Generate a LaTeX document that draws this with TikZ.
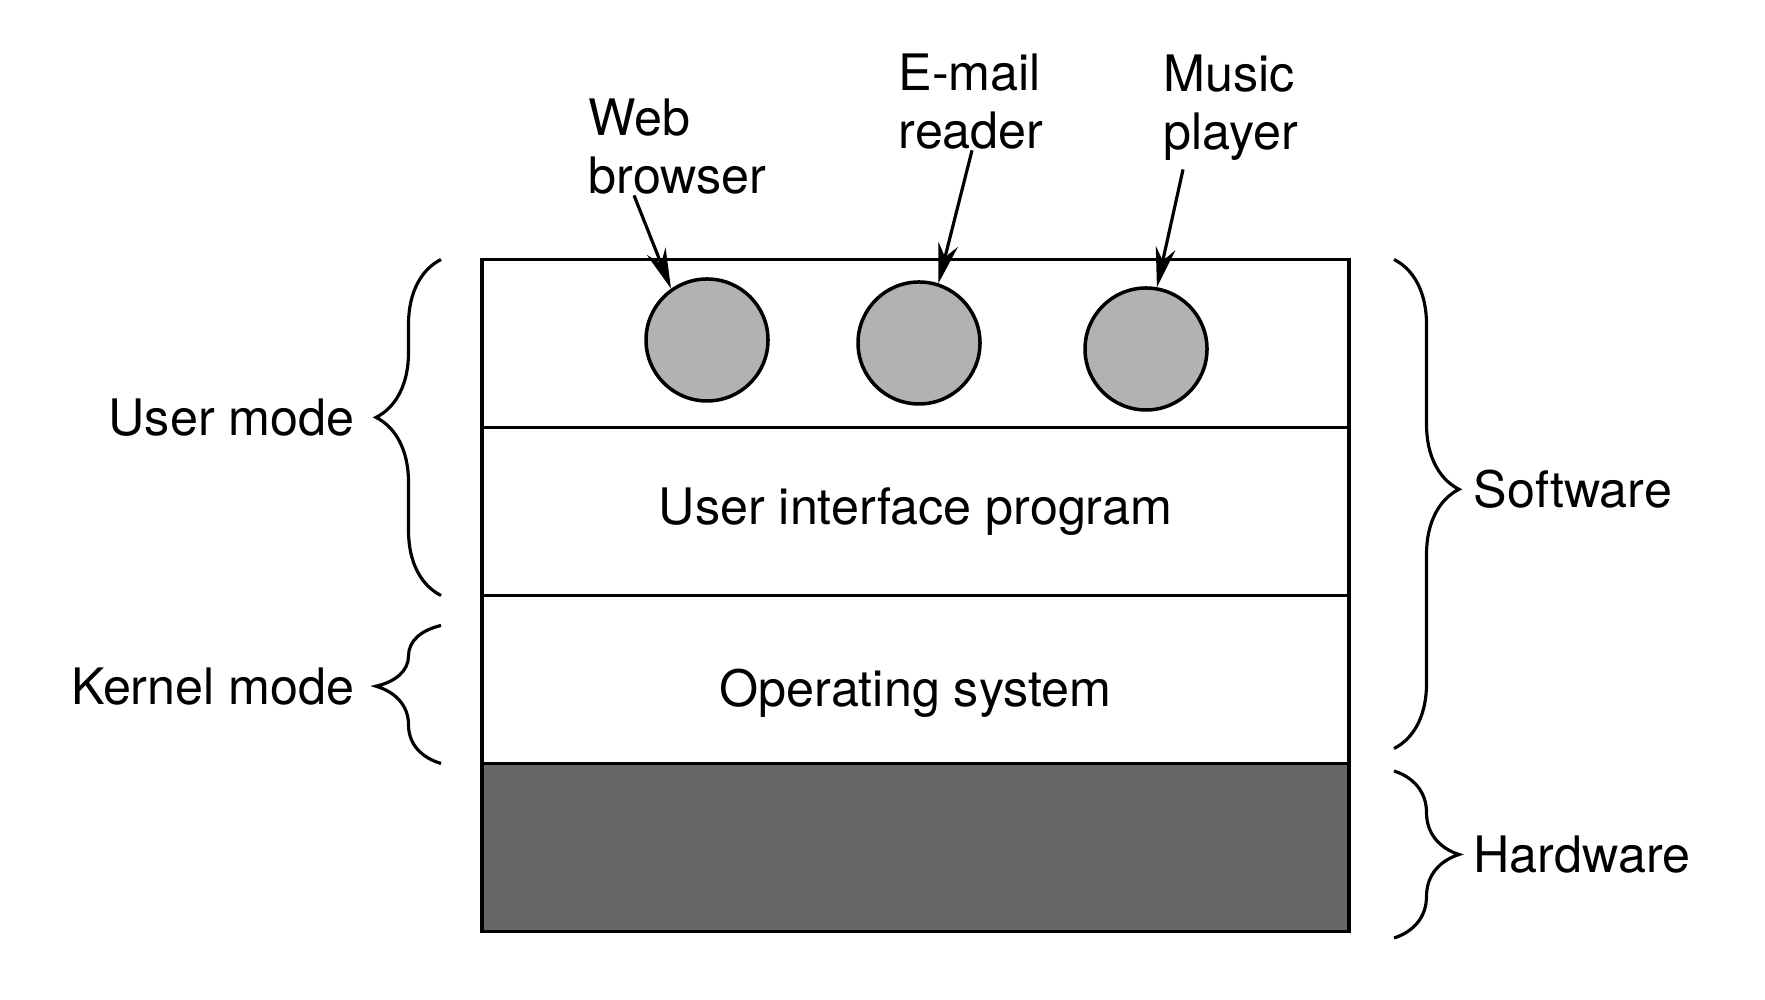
\documentclass[tikz,border=0pt]{standalone}
\usepackage{fontspec}
\setmainfont{TeX Gyre Heros}
\usetikzlibrary{positioning}
\usetikzlibrary{arrows.meta}
\usetikzlibrary{decorations.pathreplacing}

\tikzset{
  layer/.style={draw, line width=1pt, minimum width=8.67cm, minimum height=1.68cm, inner sep=0pt, outer sep=0pt},
  proc/.style={circle, draw, line width=1pt, fill=black!30, minimum size=1.22cm, inner sep=0pt},
  brc/.style={decorate, decoration={brace, amplitude=6.5mm, aspect=#1}, line width=0.9pt},
  brc/.default=0.5,
  lbl/.style={align=left, inner sep=0pt},
  ptr/.style={-{Stealth[length=4mm, width=2mm]}, line width=0.9pt}
}

\begin{document}
\begin{tikzpicture}[font=\fontsize{14.3}{16.5}\selectfont]
        \useasboundingbox (0,0) rectangle (17.65,10);

        % Layers
        \node[layer] (apps) at (9.155,6.565) {};
        \node[layer, below=0pt of apps] (ui) {User interface program};
        \node[layer, below=0pt of ui, text height=6.4mm] (os) {Operating system};
        \node[layer, below=0pt of os, fill=black!60] (hw) {};

        % User programs
        \foreach \nm/\x/\y in {web/7.07/6.60, mail/9.19/6.57, music/11.46/6.51} {
            \node[proc] (\nm) at (\x,\y) {};
        }

        % Program labels and arrows
        \node[lbl, anchor=west] (weblbl) at (5.88,8.53) {Web\\browser};
        \node[lbl, anchor=west] (maillbl) at (8.98,8.98) {E-mail\\reader};
        \node[lbl, anchor=west] (musiclbl) at (11.63,8.92) {Music\\player};
        \draw[ptr] ([xshift=4.6mm]weblbl.south west) -- (web.125);
        \draw[ptr] ([xshift=7.4mm]maillbl.south west) -- (mail.72);
        \draw[ptr] ([xshift=2mm, yshift=-0.8mm]musiclbl.south west) -- (music.80);

        % Mode braces (left)
        \draw[brc=0.53] ([xshift=-4.1mm]ui.south west) -- ([xshift=-4.1mm]apps.north west)
            node[lbl, pos=0.53, left=8.5mm] (usermode) {User mode};
        \draw[brc=0.56] ([xshift=-4.1mm]os.south west) -- ([xshift=-4.1mm, yshift=-3mm]os.north west)
            node[lbl, pos=0.56, left=8.5mm] (kernelmode) {Kernel mode};

        % Software / hardware braces (right)
        \draw[brc=0.47] ([xshift=4.5mm]apps.north east) -- ([xshift=4.5mm, yshift=1.5mm]os.south east)
            node[lbl, pos=0.47, right=7.8mm] (softw) {Software};
        \draw[brc] ([xshift=4.5mm, yshift=-0.75mm]hw.north east) -- ([xshift=4.5mm, yshift=-0.65mm]hw.south east)
            node[lbl, midway, right=7.8mm] (hardw) {Hardware};
\end{tikzpicture}
\end{document}
